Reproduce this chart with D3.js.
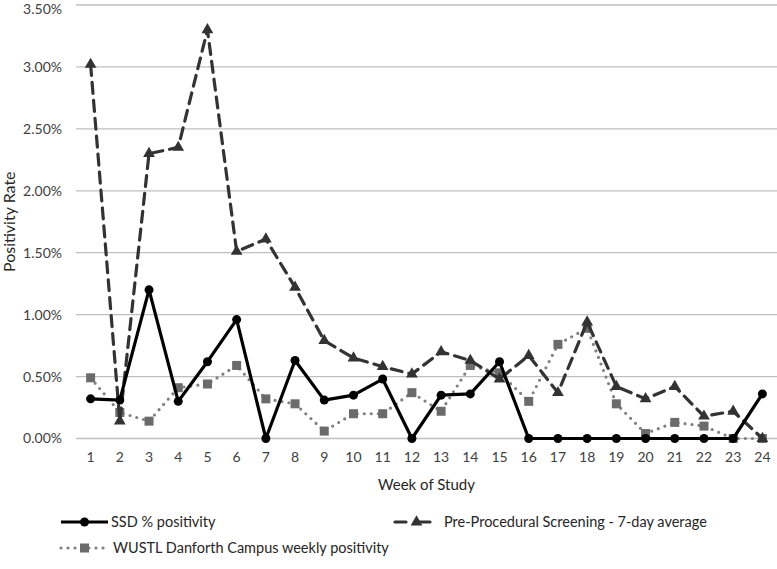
<!DOCTYPE html>
<html><head><meta charset="utf-8">
<script src="https://cdn.jsdelivr.net/npm/d3@7"></script>
<style>body{margin:0;background:#fff}svg{display:block;font-family:Lato,"Open Sans",sans-serif}</style>
</head><body><svg id="c" width="777" height="569"></svg>
<script>
const weeks = d3.range(1,25).map(String);
const ssd = [0.32,0.31,1.20,0.30,0.62,0.96,0,0.63,0.31,0.35,0.48,0,0.35,0.36,0.62,0,0,0,0,0,0,0,0,0.36];
const preProc = [3.02,0.14,2.30,2.35,3.30,1.51,1.61,1.22,0.79,0.65,0.58,0.52,0.70,0.63,0.48,0.67,0.37,0.94,0.42,0.32,0.42,0.18,0.22,0.0];
const wustl = [0.49,0.21,0.14,0.41,0.44,0.59,0.32,0.28,0.06,0.20,0.20,0.37,0.22,0.59,0.53,0.30,0.76,0.89,0.28,0.04,0.13,0.10,0.0,0.0];
const yTicks = [0,0.5,1,1.5,2,2.5,3,3.5];
const seriesNames = ["SSD % positivity","Pre-Procedural Screening - 7-day average","WUSTL Danforth Campus weekly positivity"];

const svg = d3.select("#c");
const L=76,R=777,T=5,B=438.5;
const x = d3.scaleBand().domain(weeks).range([L,R]);
const y = d3.scaleLinear().domain([0,3.5]).range([B,T]);
const cx = d => x(d)+x.bandwidth()/2;

// gridlines
svg.append("g").selectAll("line").data(yTicks).join("line")
  .attr("x1",L).attr("x2",R).attr("y1",d=>y(d)).attr("y2",d=>y(d))
  .attr("stroke","#bfbfbf").attr("stroke-width",1.3);

// y axis labels
const yAxis = d3.axisLeft(y).tickValues(yTicks).tickFormat(d=>d.toFixed(2)+"%").tickSize(0).tickPadding(14);
const gy = svg.append("g").attr("transform",`translate(${L},0)`).call(yAxis);
gy.select(".domain").remove();
gy.selectAll("text").attr("font-size",14).attr("fill","#404040").attr("font-family","Lato");
gy.selectAll(".tick").filter(d=>d===3.5).select("text").attr("dy","0.62em");

// x axis labels
const xAxis = d3.axisBottom(x).tickSize(0).tickPadding(14);
const gx = svg.append("g").attr("transform",`translate(0,${B})`).call(xAxis);
gx.select(".domain").remove();
gx.selectAll("text").attr("font-size",14).attr("fill","#404040").attr("font-family","Lato");

// titles
svg.append("text").attr("x",(L+R)/2).attr("y",490).attr("text-anchor","middle")
  .attr("font-size",15).attr("fill","#262626").text("Week of Study");
svg.append("text").attr("transform",`translate(15,${(T+B)/2}) rotate(-90)`).attr("text-anchor","middle")
  .attr("font-size",16).attr("fill","#262626").text("Positivity Rate");

const line = d3.line().x((d,i)=>cx(weeks[i])).y(d=>y(d));
const tri = d3.symbol().type(d3.symbolTriangle).size(60);

// WUSTL dotted
svg.append("path").attr("d",line(wustl)).attr("fill","none").attr("stroke","#808080")
  .attr("stroke-width",3.2).attr("stroke-dasharray","0,7").attr("stroke-linecap","round");
svg.append("g").selectAll("rect").data(wustl).join("rect")
  .attr("x",(d,i)=>cx(weeks[i])-4.5).attr("y",d=>y(d)-4.5).attr("width",9).attr("height",9)
  .attr("fill","#6b6b6b");

// Pre-proc dashed
svg.append("path").attr("d",line(preProc)).attr("fill","none").attr("stroke","#333")
  .attr("stroke-width",3.2).attr("stroke-dasharray","11,7").attr("stroke-linecap","round");
svg.append("g").selectAll("path").data(preProc).join("path")
  .attr("d",tri).attr("transform",(d,i)=>`translate(${cx(weeks[i])},${y(d)})`).attr("fill","#333");

// SSD solid
svg.append("path").attr("d",line(ssd)).attr("fill","none").attr("stroke","#000")
  .attr("stroke-width",3.2).attr("stroke-linejoin","round");
svg.append("g").selectAll("circle").data(ssd).join("circle")
  .attr("cx",(d,i)=>cx(weeks[i])).attr("cy",d=>y(d)).attr("r",4.5).attr("fill","#000");

// legend
const lg = svg.append("g").attr("font-size",14.5).attr("fill","#262626");
// SSD
lg.append("line").attr("x1",61).attr("x2",108).attr("y1",522).attr("y2",522).attr("stroke","#000").attr("stroke-width",3.2);
lg.append("circle").attr("cx",84.5).attr("cy",522).attr("r",4.5).attr("fill","#000");
lg.append("text").attr("x",111).attr("y",527).text(seriesNames[0]);
// Pre-proc
lg.append("line").attr("x1",394).attr("x2",439).attr("y1",522).attr("y2",522).attr("stroke","#333")
  .attr("stroke-width",3.2).attr("stroke-dasharray","11,13").attr("stroke-dashoffset",-1).attr("stroke-linecap","round");
lg.append("path").attr("d",tri).attr("transform","translate(416.5,522)").attr("fill","#333");
lg.append("text").attr("x",444).attr("y",527).text(seriesNames[1]);
// WUSTL
lg.append("line").attr("x1",61).attr("x2",108).attr("y1",548).attr("y2",548).attr("stroke","#808080")
  .attr("stroke-width",3.2).attr("stroke-dasharray","0,7").attr("stroke-linecap","round");
lg.append("rect").attr("x",80).attr("y",543.5).attr("width",9).attr("height",9).attr("fill","#6b6b6b");
lg.append("text").attr("x",113).attr("y",553).text(seriesNames[2]);
</script></body></html>
